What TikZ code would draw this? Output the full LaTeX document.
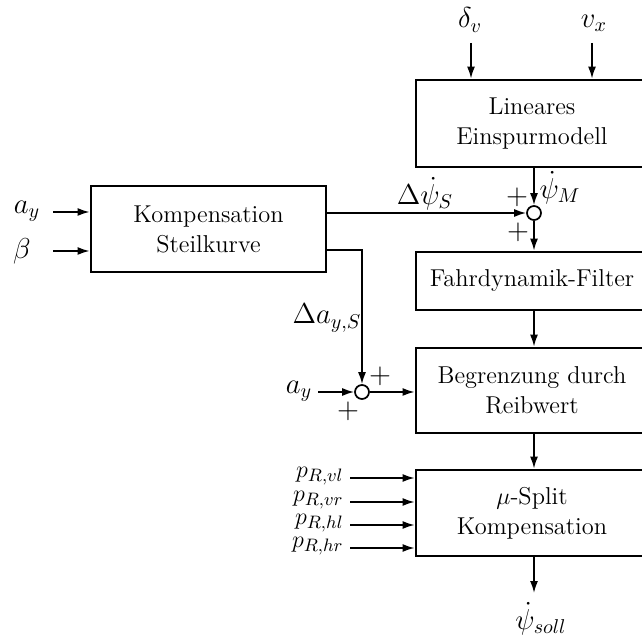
\documentclass[tikz,border=0pt]{standalone}
\usetikzlibrary{arrows.meta}
\begin{document}
\begin{tikzpicture}[x=0.5pt,y=-0.5pt,
  font=\fontsize{12.2}{15}\selectfont,
  blk/.style={draw, line width=1.4pt, inner sep=0pt, align=center},
  sig/.style={-{Latex[length=6pt,width=4pt]}, line width=0.85pt},
  sumc/.style={circle, draw, line width=0.85pt, minimum size=7pt, inner sep=0pt},
  lbl/.style={inner sep=1pt, font=\fontsize{14}{17}\selectfont},
  plbl/.style={inner sep=0.5pt, anchor=east, font=\fontsize{13}{14}\selectfont}]
\useasboundingbox (0,0) rectangle (642,635);
% blocks
\node[blk, minimum width=116pt, minimum height=43.5pt] (lin) at (532,123.5) {Lineares\\Einspurmodell};
\node[blk, minimum width=116pt, minimum height=29pt] (fdf) at (532,281) {Fahrdynamik-Filter};
\node[blk, minimum width=116pt, minimum height=42.5pt] (beg) at (532,390.5) {Begrenzung durch\\Reibwert};
\node[blk, minimum width=116pt, minimum height=43pt] (mu) at (532,513) {$\mu$-Split\\Kompensation};
\node[blk, minimum width=117.5pt, minimum height=43pt] (komp) at (208.5,229) {Kompensation\\Steilkurve};
% summing points
\node[sumc] (s1) at (534,213) {};
\node[sumc] (s2) at (362,392) {};
% top inputs
\node[lbl] (dv) at (470,20) {$\delta_v$};
\node[lbl] (vx) at (594,23) {$v_x$};
\coordinate (dvin) at (471,43);
\coordinate (vxin) at (592,43);
\draw[sig] (dvin) -- (dvin |- lin.north);
\draw[sig] (vxin) -- (vxin |- lin.north);
% main chain
\draw[sig] (s1 |- lin.south) -- (s1);
\node[lbl] (psiM) at (560,188) {$\dot\psi_M$};
\node[lbl] (p1a) at (517,197) {$+$};
\node[lbl] (p1b) at (518,232) {$+$};
\draw[sig] (s1) -- (s1 |- fdf.north);
\draw[sig] (s1 |- fdf.south) -- (s1 |- beg.north);
\draw[sig] (s1 |- beg.south) -- (s1 |- mu.north);
\coordinate (out) at (534,593);
\draw[sig] (s1 |- mu.south) -- (out);
\node[lbl] (psisoll) at (541,619) {$\dot\psi_{soll}$};
% Kompensation inputs
\coordinate (ayin) at (53,212);
\coordinate (betain) at (53,251);
\node[lbl] (ay) at (27,211) {$a_y$};
\node[lbl] (beta) at (22,251) {$\beta$};
\draw[sig] (ayin) -- (ayin -| komp.west);
\draw[sig] (betain) -- (betain -| komp.west);
% Kompensation outputs
\draw[sig] (komp.east |- s1) -- (s1);
\node[lbl] (dpsiS) at (425,194) {$\Delta\dot\psi_S$};
\coordinate (k2) at (326,250);
\draw[sig] (k2) -| (s2);
\node[lbl] (dayS) at (327,318) {$\Delta a_{y,S}$};
% second summing point
\coordinate (ay2in) at (318,392);
\node[lbl] (ay2) at (299,391) {$a_y$};
\draw[sig] (ay2in) -- (s2);
\node[lbl] (p2a) at (380,376) {$+$};
\node[lbl] (p2b) at (348,411) {$+$};
\draw[sig] (s2) -- (s2 -| beg.west);
% p_R inputs
\coordinate (pr1) at (350,478);
\coordinate (pr2) at (350,502);
\coordinate (pr3) at (350,525);
\coordinate (pr4) at (350,548);
\node[plbl] (lpr1) at (345,476) {$p_{R,vl}$};
\node[plbl] (lpr2) at (345,500) {$p_{R,vr}$};
\node[plbl] (lpr3) at (345,523) {$p_{R,hl}$};
\node[plbl] (lpr4) at (345,546) {$p_{R,hr}$};
\draw[sig] (pr1) -- (pr1 -| mu.west);
\draw[sig] (pr2) -- (pr2 -| mu.west);
\draw[sig] (pr3) -- (pr3 -| mu.west);
\draw[sig] (pr4) -- (pr4 -| mu.west);
\end{tikzpicture}
\end{document}
